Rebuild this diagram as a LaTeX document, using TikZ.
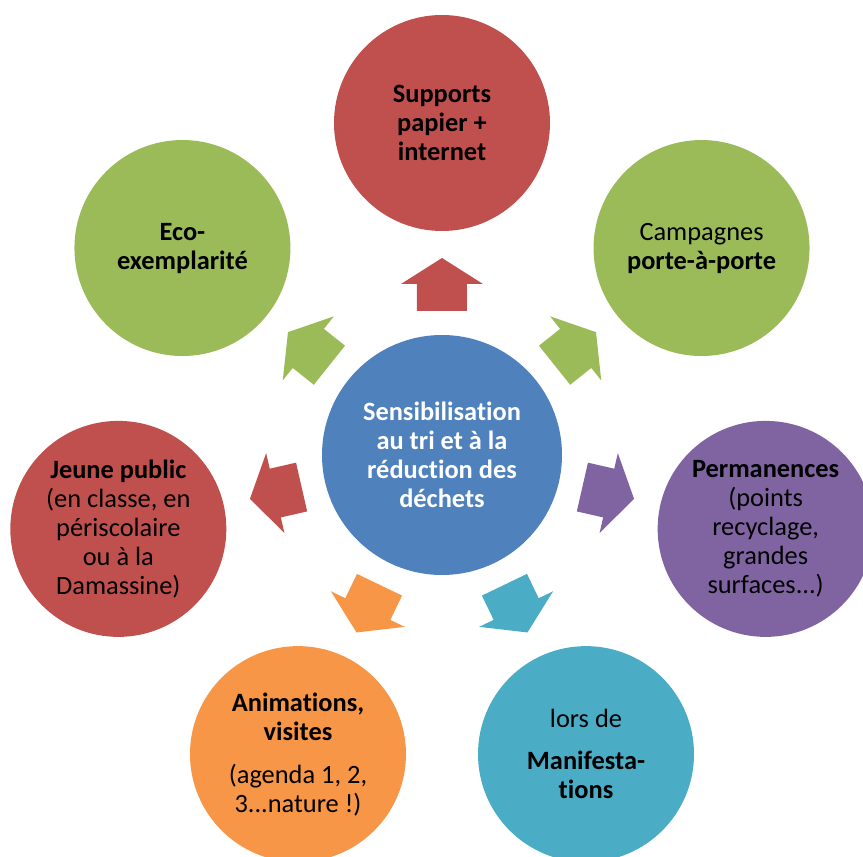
\documentclass[tikz,border=0pt]{standalone}
\usepackage{fontspec}
\setmainfont[Ligatures=NoCommon]{Carlito}
\usepackage{xcolor}
\usetikzlibrary{positioning}

\definecolor{ofblue}{HTML}{4F81BD}
\definecolor{ofred}{HTML}{C0504D}
\definecolor{ofgreen}{HTML}{9BBB59}
\definecolor{ofpurple}{HTML}{8064A2}
\definecolor{ofteal}{HTML}{4BACC6}
\definecolor{oforange}{HTML}{F79646}

\begin{document}
\begin{tikzpicture}[x=0.5pt,y=0.5pt]
\tikzstyle{bubble}=[circle, inner sep=0pt, minimum size=108pt, align=center, text=black, font=\fontsize{13.2}{14.5}\selectfont]
\useasboundingbox (-442,-402) rectangle (421,455);
% centre
\node [bubble, minimum size=120pt, fill=ofblue, text=white, font=\bfseries\fontsize{13.2}{14.5}\selectfont] (centre) at (0,0) {Sensibilisation\\au tri et à la\\réduction des\\déchets};
% outer ring, 360/7 apart
\node [bubble, fill=ofred] (supports) at (90:332) {\textbf{Supports}\\\textbf{papier +}\\\textbf{internet}};
\node [bubble, fill=ofgreen] (campagnes) at (38.57:332) {Campagnes\\\textbf{porte-à-porte}};
\node [bubble, fill=ofpurple] (permanences) at (-12.86:332) {\textbf{Permanences}\\(points\\recyclage,\\grandes\\surfaces...)};
\node [bubble, fill=ofteal] (manif) at (-64.29:332) {lors de\\[6.5pt]\textbf{Manifesta-}\\\textbf{tions}};
\node [bubble, fill=oforange] (animations) at (-115.71:332) {\textbf{Animations,}\\\textbf{visites}\\[7pt](agenda 1, 2,\\3...nature !)};
\node [bubble, fill=ofred] (jeune) at (192.86:332) {\textbf{Jeune public}\\(en classe, en\\périscolaire\\ou à la\\Damassine)};
\node [bubble, fill=ofgreen] (eco) at (141.43:332) {\textbf{Eco-}\\\textbf{exemplarité}};
% block arrows
\foreach \ang/\col in {90/ofred, 38.57/ofgreen, -12.86/ofpurple, -64.29/ofteal, -115.71/oforange, 192.86/ofred, 141.43/ofgreen}
  \fill [\col, shift={(centre.center)}, rotate=\ang] (144,-25) -- (171,-25) -- (171,-41) -- (197,0) -- (171,41) -- (171,25) -- (144,25) -- cycle;
\end{tikzpicture}
\end{document}
